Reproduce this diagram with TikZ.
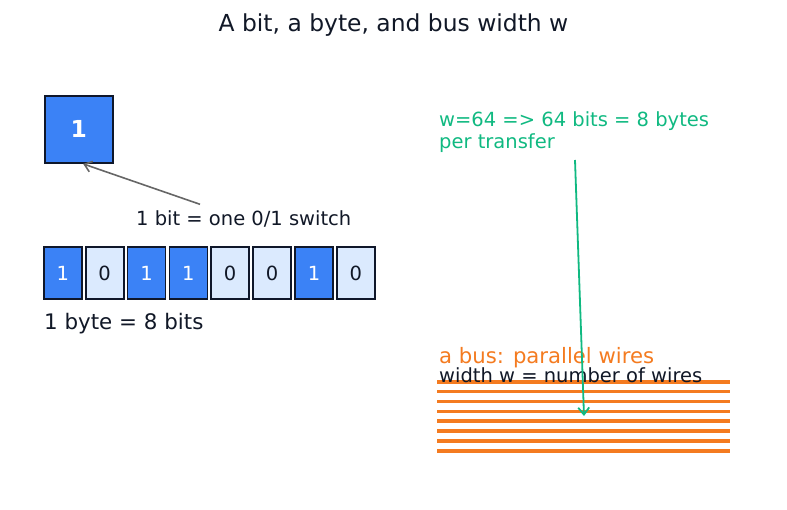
\documentclass[tikz,border=0pt]{standalone}
\usepackage{fontspec}
\setmainfont{DejaVu Sans}
\usetikzlibrary{arrows.meta}
\definecolor{ink}{HTML}{111827}
\definecolor{boxedge}{HTML}{0F172A}
\definecolor{bitblue}{HTML}{3B82F6}
\definecolor{bitlight}{HTML}{DBEAFE}
\definecolor{grn}{HTML}{10B981}
\definecolor{org}{HTML}{F47B20}
\definecolor{arrgray}{HTML}{666666}
\tikzset{
  txt/.style={inner sep=0pt, anchor=base west, text=ink},
  bitbox/.style={draw=boxedge, line width=1.8pt, minimum width=38pt, minimum height=52pt, inner sep=0pt, font=\fontsize{19.5}{22}\selectfont},
  onebit/.style={bitbox, fill=bitblue, text=white},
  zerobit/.style={bitbox, fill=bitlight, text=ink},
  wire/.style={draw=org, line width=3.6pt},
  tipopen/.style={-{Straight Barb[length=7pt,width=11pt]}}
}
\begin{document}
\begin{tikzpicture}[x=1pt,y=-1pt]
\useasboundingbox (0,0) rectangle (787,510);
% title
\node[inner sep=0pt, anchor=base, text=ink, font=\fontsize{23.4}{26}\selectfont] (title) at (393.5,32) {A bit, a byte, and bus width w};
% big bit
\node[draw=boxedge, line width=1.8pt, fill=bitblue, minimum width=68pt, minimum height=67pt, inner sep=0pt] (big) at (78.7,129.5) {};
\node[inner sep=0pt, anchor=base, text=white, font=\bfseries\fontsize{23.4}{26}\selectfont] (bigone) at (78.7,137.3) {1};
% arrow and label
\coordinate (tail) at (200,204.3);
\draw[arrgray, line width=1.6pt, tipopen] (tail) -- ([xshift=4.5pt]big.south);
\node[txt, font=\fontsize{19.5}{22}\selectfont] (bitlbl) at (136,225.5) {1 bit = one 0/1 switch};
% byte
\node[onebit]  (b1) at (62.8,273.3) {1};
\node[zerobit] (b2) at (104.6,273.3) {0};
\node[onebit]  (b3) at (146.5,273.3) {1};
\node[onebit]  (b4) at (188.4,273.3) {1};
\node[zerobit] (b5) at (230.2,273.3) {0};
\node[zerobit] (b6) at (272.1,273.3) {0};
\node[onebit]  (b7) at (314,273.3) {1};
\node[zerobit] (b8) at (355.9,273.3) {0};
\node[txt, font=\fontsize{21.4}{24}\selectfont] (bytelbl) at (44,330) {1 byte = 8 bits};
% bus
\foreach \i/\y in {1/381.8,2/391.7,3/401.6,4/411.4,5/421.2,6/431.0,7/440.9,8/450.7}{
  \coordinate (wl\i) at (437,\y);
  \coordinate (wr\i) at (730,\y);
  \draw[wire] (wl\i) -- (wr\i);
}
\node[txt, text=org, font=\fontsize{21.2}{24}\selectfont] (buslbl) at (439,363.5) {a bus: parallel wires};
\node[txt, font=\fontsize{19.5}{22}\selectfont] (widthlbl) at (439,382) {width w = number of wires};
% green note
\node[txt, text=grn, font=\fontsize{19.5}{22}\selectfont] (note1) at (439,127) {w=64 => 64 bits = 8 bytes};
\node[txt, text=grn, font=\fontsize{19.5}{22}\selectfont] (note2) at (439,149) {per transfer};
\coordinate (gstart) at (575,160);
\coordinate (gend) at (584,416);
\draw[grn, line width=1.8pt, tipopen] (gstart) -- (gend);
\end{tikzpicture}
\end{document}
